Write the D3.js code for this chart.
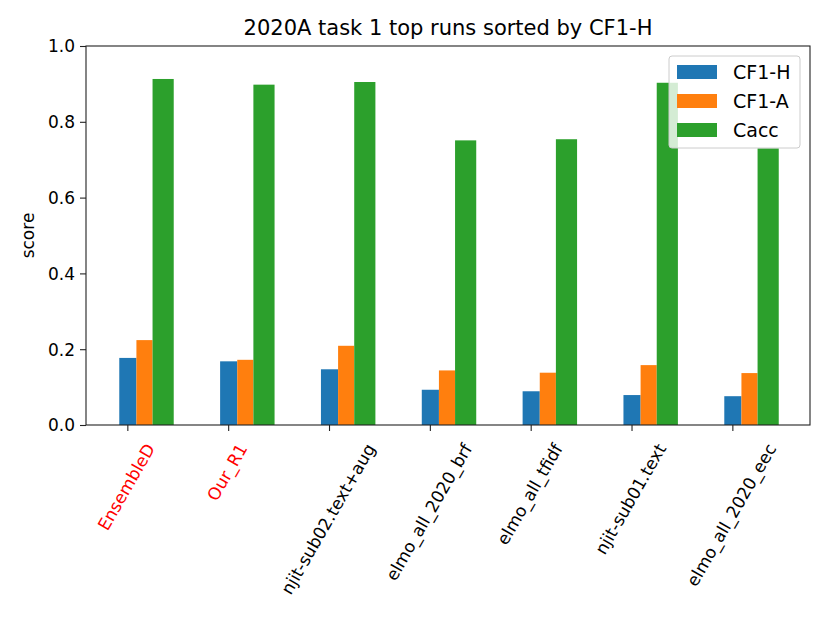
<!DOCTYPE html>
<html>
<head>
<meta charset="utf-8">
<script src="https://cdn.jsdelivr.net/npm/d3@7"></script>
<style>
  body { margin: 0; background: #fff; }
  text { font-family: "DejaVu Sans", sans-serif; }
</style>
</head>
<body>
<script>
// run names, in the order shown (sorted by CF1-H)
var runs = ["EnsembleD", "Our_R1", "njit-sub02.text+aug", "elmo_all_2020_brf",
            "elmo_all_tfidf", "njit-sub01.text", "elmo_all_2020_eec"];
var ownRuns = ["EnsembleD", "Our_R1"];

var seriesNames = ["CF1-H", "CF1-A", "Cacc"];
var cf1h = [0.177, 0.168, 0.147, 0.093, 0.089, 0.079, 0.076];
var cf1a = [0.224, 0.172, 0.209, 0.144, 0.138, 0.158, 0.137];
var cacc = [0.913, 0.898, 0.905, 0.751, 0.754, 0.903, 0.730];
var yTicks = [0.0, 0.2, 0.4, 0.6, 0.8, 1.0];

var colors = ["#1f77b4", "#ff7f0e", "#2ca02c"];

function main() {
  var width = 830, height = 623;
  var left = 86, right = 810, top = 46, bottom = 425;

  var svg = d3.select("body").append("svg")
    .attr("width", width)
    .attr("height", height);

  // x is in run-index units, like the matplotlib axis
  var x = d3.scaleLinear().domain([-0.41, 6.77]).range([left, right]);
  var y = d3.scaleLinear().domain([0, 1]).range([bottom, top]);

  var series = [cf1h, cf1a, cacc];
  // bar start offset and width per series (index units)
  var offs = [-0.08, 0.09, 0.25];
  var wids = [0.17, 0.16, 0.21];

  series.forEach(function(vals, s) {
    svg.append("g").selectAll("rect")
      .data(vals)
      .enter().append("rect")
      .attr("x", function(d, i) { return x(i + offs[s]); })
      .attr("width", function() { return x(wids[s]) - x(0); })
      .attr("y", function(d) { return y(d); })
      .attr("height", function(d) { return y(0) - y(d); })
      .attr("fill", colors[s]);
  });

  // y axis
  var yAxis = d3.axisLeft(y).tickValues(yTicks).tickFormat(d3.format(".1f"))
    .tickSize(6).tickPadding(5);
  var gy = svg.append("g").attr("transform", "translate(" + left + ",0)").call(yAxis);
  gy.select(".domain").remove();
  gy.selectAll("text").style("font-size", "17px").attr("fill", "#000").attr("dy", "0.35em");
  gy.selectAll("line").attr("stroke", "#222").attr("stroke-width", 1.1);

  // x axis ticks
  var xAxis = d3.axisBottom(x).tickValues(d3.range(runs.length)).tickFormat("").tickSize(6);
  var gx = svg.append("g").attr("transform", "translate(0," + bottom + ")").call(xAxis);
  gx.select(".domain").remove();
  gx.selectAll("line").attr("stroke", "#222").attr("stroke-width", 1.1);

  // rotated run labels, bbox centred on tick like matplotlib
  runs.forEach(function(name, i) {
    var t = svg.append("text")
      .text(name)
      .style("font-size", "17px")
      .attr("text-anchor", "end")
      .attr("dominant-baseline", "central")
      .attr("fill", ownRuns.indexOf(name) >= 0 ? "red" : "#000");
    var L = t.node().getComputedTextLength();
    var h = 17;
    var xe = x(i) - 1 + 0.25 * L;
    var ye = bottom + 16 + 0.25 * h;
    t.attr("transform", "translate(" + xe + "," + ye + ") rotate(-60)");
  });

  // frame
  svg.append("rect")
    .attr("x", left).attr("y", top)
    .attr("width", right - left).attr("height", bottom - top)
    .attr("fill", "none").attr("stroke", "#222").attr("stroke-width", 1.1);

  // title and y label
  svg.append("text")
    .attr("x", (left + right) / 2).attr("y", 35)
    .attr("text-anchor", "middle")
    .style("font-size", "21px")
    .text("2020A task 1 top runs sorted by CF1-H");

  svg.append("text")
    .attr("transform", "translate(34," + (top + bottom) / 2 + ") rotate(-90)")
    .attr("text-anchor", "middle")
    .style("font-size", "17px")
    .text("score");

  // legend
  var lg = svg.append("g");
  lg.append("rect")
    .attr("x", 669).attr("y", 56).attr("width", 131).attr("height", 92)
    .attr("rx", 3)
    .attr("fill", "#fff").attr("fill-opacity", 0.8)
    .attr("stroke", "#ccc").attr("stroke-width", 1);
  seriesNames.forEach(function(name, s) {
    var yy = 65 + s * 29;
    lg.append("rect")
      .attr("x", 677).attr("y", yy).attr("width", 40).attr("height", 14)
      .attr("fill", colors[s]);
    lg.append("text")
      .attr("x", 733).attr("y", yy + 7)
      .attr("dy", "0.35em")
      .style("font-size", "19px")
      .text(name);
  });
}

main();
</script>
</body>
</html>
